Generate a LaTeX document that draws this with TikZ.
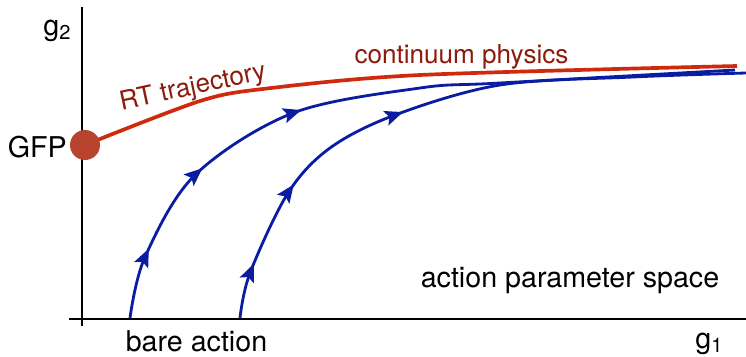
\documentclass[tikz,border=0pt]{standalone}
\usepackage{fontspec}
\setmainfont{TeX Gyre Heros}
\usetikzlibrary{arrows.meta,decorations.markings,positioning}

\definecolor{rtline}{HTML}{D02A0C}
\definecolor{rttext}{HTML}{8E1A0C}
\definecolor{gfpfill}{HTML}{B8432F}
\definecolor{flowblue}{HTML}{0A1CA2}

\tikzset{
  axis/.style={line width=1.7pt, black},
  bigtext/.style={font=\fontsize{16.3}{18}\selectfont, inner sep=0pt},
  redtext/.style={font=\fontsize{14.85}{17}\selectfont, inner sep=0pt, text=rttext},
  flow/.style={line width=1.6pt, flowblue},
  flowtip/.tip={Stealth[length=0.36cm,width=0.3cm,inset=0.07cm]},
  flowarrows/.style n args={3}{postaction={decorate}, decoration={markings,
    mark=at position #1 with {\arrow{flowtip}},
    mark=at position #2 with {\arrow{flowtip}},
    mark=at position #3 with {\arrow{flowtip}}}}
}

\begin{document}
\begin{tikzpicture}
    \useasboundingbox (0,0) rectangle (14.92,7.12);
    % Axes
    \coordinate (ytop) at (1.64,6.98);
    \coordinate (ybot) at (1.64,0.6);
    \coordinate (xleft) at (1.38,0.74);
    \coordinate (xright) at (14.92,0.74);
    \draw[axis] (ybot) -- (ytop);
    \draw[axis] (xleft) -- (xright);
    \node[bigtext, anchor=base west] (gtwo) at (0.86,6.42) {g\textsubscript{2}};
    \node[bigtext, anchor=base west] (gone) at (13.9,0.16) {g\textsubscript{1}};

    % Flow lines from the bare action
    \draw[flow, flowarrows={0.1}{0.235}{0.395}] plot[smooth, tension=0.55] coordinates
      {(2.6,0.76) (2.9,1.98) (3.9,3.62) (5.86,4.86) (8.4,5.36) (10.0,5.46) (14.7,5.72)};
    \draw[flow, flowarrows={0.09}{0.232}{0.445}] plot[smooth, tension=0.55] coordinates
      {(4.8,0.76) (5.0,1.66) (5.76,3.26) (6.6,4.16) (7.9,4.82) (10.0,5.42) (12.66,5.58) (14.92,5.66)};

    % RT trajectory out of the fixed point
    \draw[line width=2.1pt, rtline] plot[smooth, tension=0.5] coordinates
      {(1.70,4.22) (4.0,5.1) (5.34,5.35) (8.4,5.62) (14.74,5.8)};
    \node[circle, fill=gfpfill, minimum size=0.6cm, inner sep=0pt] (gfp) at (1.70,4.22) {};
    \node[bigtext, anchor=base east] (gfplabel) at (1.34,3.98) {GFP};

    % Labels
    \node[redtext, rotate=12] (rtlabel) at (3.86,5.36) {RT trajectory};
    \node[redtext, anchor=base] (contlabel) at (9.23,5.85) {continuum physics};
    \node[bigtext, anchor=base] (spacelabel) at (11.4,1.38) {action parameter space};
    \node[bigtext, anchor=base] (barelabel) at (3.93,0.1) {bare action};
\end{tikzpicture}
\end{document}
